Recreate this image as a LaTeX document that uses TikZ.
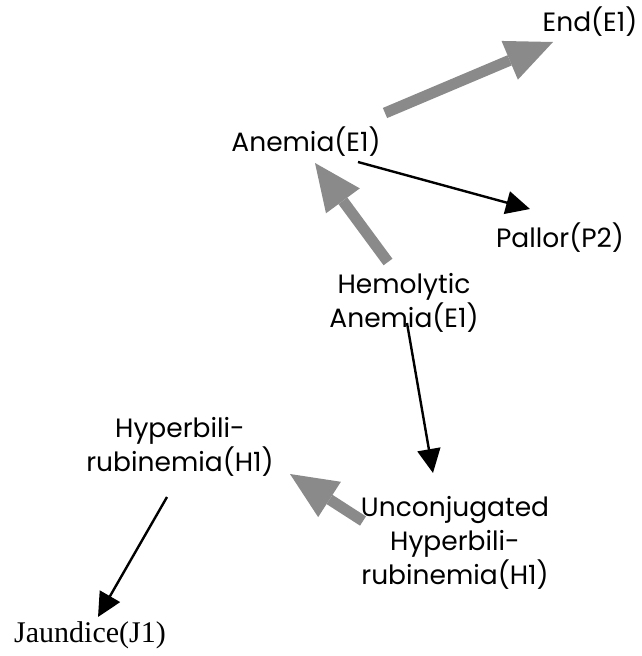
\documentclass[tikz,border=0pt]{standalone}
\usepackage{fontspec}
\setmainfont{Poppins}
\newfontfamily\timesrm{Liberation Serif}
\usetikzlibrary{arrows.meta}
\definecolor{fatgray}{RGB}{138,138,138}

\begin{document}
\begin{tikzpicture}[x=1pt,y=-1pt,
	lbl/.style={font=\fontsize{26.5}{34}\selectfont,align=center,inner sep=0pt},
	fat/.style={draw=fatgray,line width=11pt,-{Triangle[length=47pt,width=42pt,line width=0pt,fill=fatgray]}},
	thin/.style={line width=2.4pt,-{Triangle[length=24pt,width=23pt]}}]
	\useasboundingbox (0,0) rectangle (642,656);

	\node[lbl] (end) at (590,22) {End(E1)};
	\node[lbl] (anemia) at (306,142) {Anemia(E1)};
	\node[lbl] (pallor) at (560,238) {Pallor(P2)};
	\node[lbl] (hemo) at (404,303) {Hemolytic\\Anemia(E1)};
	\node[lbl] (hyper) at (180,447) {Hyperbili-\\rubinemia(H1)};
	\node[lbl] (uncon) at (455,543) {Unconjugated\\Hyperbili-\\rubinemia(H1)};
	\node[lbl,font=\timesrm\fontsize{30}{34}\selectfont] (jaund) at (90,635) {Jaundice(J1)};

	\draw[fat] ([shift={(79,-29)}]anemia.center) -- ([shift={(-37,20)}]end.center);
	\draw[thin] ([shift={(52,20)}]anemia.center) -- ([shift={(-30,-29)}]pallor.center);
	\draw[fat] ([shift={(-16,-41)}]hemo.center) -- ([shift={(9,21)}]anemia.center);
	\draw[thin] ([shift={(3,20)}]hemo.center) -- ([shift={(-22,-70)}]uncon.center);
	\draw[fat] ([shift={(-92,-22)}]uncon.center) -- ([shift={(110,27)}]hyper.center);
	\draw[thin] ([shift={(-13,50)}]hyper.center) -- ([shift={(8,-18)}]jaund.center);
\end{tikzpicture}
\end{document}
